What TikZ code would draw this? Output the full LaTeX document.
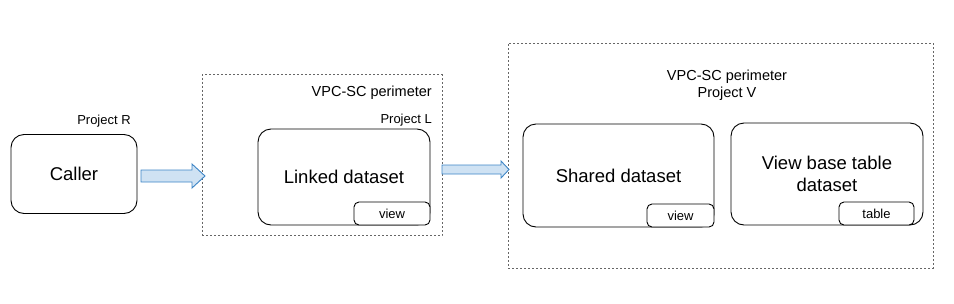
\documentclass[tikz,border=0pt]{standalone}
\usepackage{fontspec}
\setmainfont{Liberation Sans}
\definecolor{arrfill}{HTML}{CFE2F3}
\definecolor{arrline}{HTML}{3D85C6}
\definecolor{perim}{HTML}{666666}
\begin{document}
\begin{tikzpicture}[x=1pt,y=-1pt,
  bigbox/.style={draw=black,line width=0.9pt,rounded corners=13pt,inner sep=0pt,align=center,font=\fontsize{18.5}{22}\selectfont},
  smallbox/.style={draw=black,line width=0.9pt,rounded corners=5pt,inner sep=0pt,fill=white,font=\fontsize{13}{15}\selectfont},
  perimbox/.style={draw=perim,line width=0.8pt,dash pattern=on 2pt off 2pt,inner sep=0pt},
  smalllabel/.style={inner sep=0pt,font=\fontsize{13}{15}\selectfont},
  perimlabel/.style={inner sep=0pt,align=center,font=\fontsize{14.5}{17}\selectfont},
  blockarrow/.style={draw=arrline,fill=arrfill,line width=0.9pt,line join=miter}
]
\useasboundingbox (0,0) rectangle (954,303);

% perimeters
\node[perimbox,minimum width=240pt,minimum height=161pt] (p1) at (322,155) {};
\node[perimbox,minimum width=425pt,minimum height=225pt] (p2) at (720.5,155.5) {};

% labels
\node[smalllabel] (lr) at (104,121) {Project R};
\node[perimlabel,anchor=east] (lp1) at (432,93) {VPC-SC perimeter};
\node[smalllabel,anchor=east] (ll) at (432,120) {Project L};
\node[perimlabel] (lp2) at (727,85.5) {VPC-SC perimeter\\Project V};

% boxes
\node[bigbox,minimum width=126pt,minimum height=79pt] (caller) at (74,174) {Caller};
\node[bigbox,minimum width=172pt,minimum height=96pt] (linked) at (344,177) {Linked dataset};
\node[smallbox,minimum width=76pt,minimum height=23pt] (view1) at (392,213.5) {view};
\node[bigbox,minimum width=191pt,minimum height=103pt] (shared) at (618.5,175.5) {Shared dataset};
\node[smallbox,minimum width=67pt,minimum height=23pt] (view2) at (680.5,215.5) {view};
\node[bigbox,minimum width=192pt,minimum height=102pt] (base) at (827,174) {View base table\\dataset};
\node[smallbox,minimum width=75pt,minimum height=23pt] (table) at (876.5,213.5) {table};

% block arrows
\coordinate (a1t) at (205,176);
\draw[blockarrow] (141,170) -- (192,170) -- (192,164) -- (a1t) -- (192,188) -- (192,182) -- (141,182) -- cycle;
\coordinate (a2t) at (509,169.5);
\draw[blockarrow] (442,165) -- (501,165) -- (501,161) -- (a2t) -- (501,178) -- (501,174) -- (442,174) -- cycle;
\end{tikzpicture}
\end{document}
